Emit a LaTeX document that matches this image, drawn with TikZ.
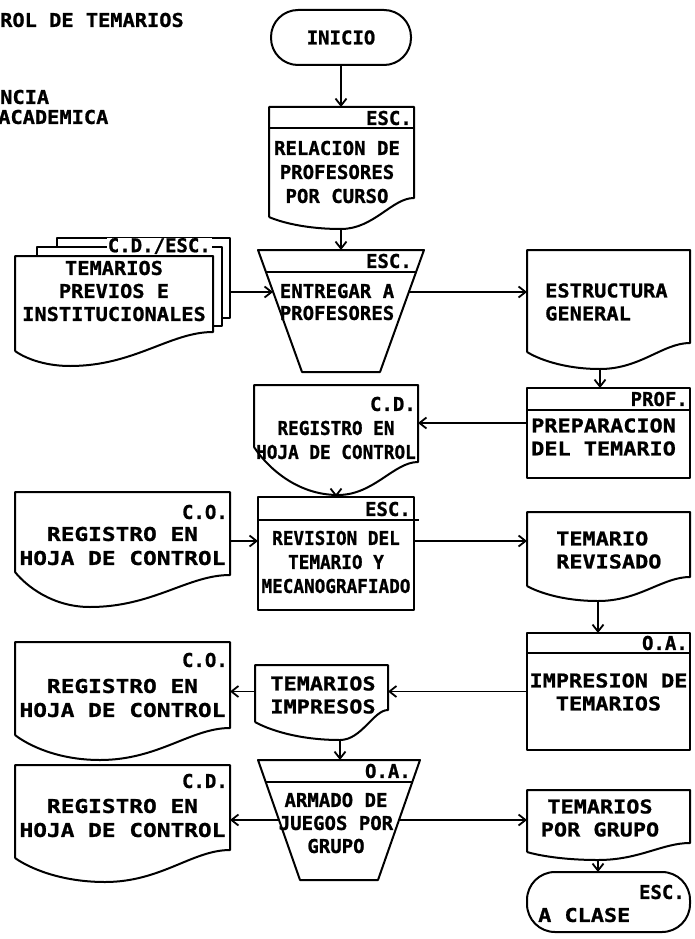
\documentclass[tikz,border=0pt]{standalone}
\usepackage{fontspec}
\setmainfont{DejaVu Sans Mono}
\newfontfamily\fW{DejaVu Sans Mono}[FakeBold=1]
\newfontfamily\fN{DejaVu Sans Mono}[FakeStretch=0.93,FakeBold=1]
\newfontfamily\fT{DejaVu Sans Mono}[FakeStretch=1.07,FakeBold=1]
\newfontfamily\fR{DejaVu Sans Mono}[FakeStretch=1.15,FakeBold=1]
\newfontfamily\fLft{DejaVu Sans Mono}[FakeStretch=1.2,FakeBold=1]
\usetikzlibrary{arrows.meta}
\newcommand\DocShape[7]{%
 \draw[shp] (#1,#7) -- (#1,#2) -- (#3,#2) -- (#3,#4)
  .. controls ({#3-0.3*(#3-#5)},#4) and ({#5+0.45*(#3-#5)},#6) .. (#5,#6)
  .. controls ({#5-0.5*(#5-#1)},#6) and ({#1+0.15*(#5-#1)},{#7+0.4*(#6-#7)}) .. (#1,#7);}
\begin{document}
\begin{tikzpicture}[x={(1pt,0)}, y={(0,-1pt)},
  shp/.style={line width=2pt, line join=round},
  arr/.style={line width=1.8pt, -{Straight Barb[length=7pt,width=11pt]}},
  lbl/.style={font=\fW\bfseries\fontsize{19}{24}\selectfont, inner sep=0pt},
  lblN/.style={font=\fN\bfseries\fontsize{19}{24}\selectfont, inner sep=0pt},
  lblT/.style={font=\fT\bfseries\fontsize{19}{24}\selectfont, inner sep=0pt},
  lblR/.style={font=\fR\bfseries\fontsize{19}{23}\selectfont, inner sep=0pt},
  lblL/.style={font=\fLft\bfseries\fontsize{19}{24}\selectfont, inner sep=0pt},
  hdr/.style={lbl, anchor=east},
  spot/.style={shape=rectangle, inner sep=0pt, outer sep=0pt},
  box/.style={shp, draw, shape=rectangle, inner sep=0pt, outer sep=0pt}]
\useasboundingbox (0,0) rectangle (694,939);

% titles
\node[lblT, anchor=west] (t1) at (0,20) {ROL DE TEMARIOS};
\node[lblT, anchor=west] (t2) at (0,97) {NCIA};
\node[lblT, anchor=west] (t3) at (-2,117) {ACADEMICA};

% INICIO
\node[box, lbl, rounded corners=27pt, minimum width=140pt, minimum height=55pt] (ini) at (341,37.5) {INICIO};

% RELACION
\DocShape{269}{107}{414}{198}{341}{229}{217}
\draw[shp] (269,128) -- (414,128);
\node[hdr] (relH) at (412,118) {ESC.};
\node[lbl, align=center] (relT) at (337,172) {RELACION DE\\PROFESORES\\POR CURSO};
\node[spot, minimum width=145pt, minimum height=122pt] (rel) at (341,168) {};

% ENTREGAR
\draw[shp] (258,250) -- (424,250) -- (380,372) -- (302,372) -- cycle;
\draw[shp] (265.9,272) -- (416.1,272);
\node[hdr] (entH) at (412,261) {ESC.};
\node[lbl, align=center, font=\fW\bfseries\fontsize{19}{22}\selectfont] (entT) at (337,302) {ENTREGAR A\\PROFESORES};
\node[spot, minimum width=136pt, minimum height=122pt] (ent) at (341,311) {};

% stack
\draw[shp] (57,247) -- (57,238) -- (230,238) -- (230,318) -- (222,318);
\draw[shp] (37,256) -- (37,247) -- (222,247) -- (222,326) -- (213,326);
\DocShape{15}{256}{213}{332}{70}{366}{351}
\node[lbl, fill=white, anchor=east, inner xsep=1pt] (stkH) at (212,246) {C.D./ESC.};
\node[lbl, align=center, font=\fT\bfseries\fontsize{19}{23}\selectfont] (stkT) at (114,291) {TEMARIOS\\PREVIOS E\\INSTITUCIONALES};
\node[spot, minimum width=215pt, minimum height=110pt] (stk) at (122.5,292) {};

% ESTRUCTURA
\DocShape{527}{250}{690}{343}{600}{369}{352}
\node[lblT, align=left, anchor=west, font=\fT\bfseries\fontsize{19}{23}\selectfont] (estT) at (545,302) {ESTRUCTURA\\GENERAL};
\node[spot, minimum width=163pt, minimum height=119pt] (est) at (608.5,309.5) {};

% PREPARACION
\node[box, minimum width=163pt, minimum height=90pt] (prep) at (608.5,433) {};
\draw[shp] (527,410) -- (690,410);
\node[hdr] (prepH) at (688,399) {PROF.};
\node[lblR, align=left, anchor=west] (prepT) at (531,437) {PREPARACION\\DEL TEMARIO};

% C.D. middle
\DocShape{254}{385}{418}{462}{338}{495}{447}
\node[hdr] (cd1H) at (416,404) {C.D.};
\node[lblN, align=center] (cd1T) at (336,440) {REGISTRO EN\\HOJA DE CONTROL};
\node[spot, minimum width=164pt, minimum height=110pt] (cd1) at (336,440) {};

% REVISION
\node[box, minimum width=156pt, minimum height=113pt] (rev) at (336,553.5) {};
\draw[shp] (258,520) -- (419,520);
\node[hdr] (revH) at (411,509) {ESC.};
\node[lblN, align=center] (revT) at (336,562) {REVISION DEL\\TEMARIO Y\\MECANOGRAFIADO};

% C.O. row 3
\DocShape{15}{492}{230}{575}{90}{607}{572}
\node[hdr] (co1H) at (228,512) {C.O.};
\node[lblL, align=center] (co1T) at (122.5,546) {REGISTRO EN\\HOJA DE CONTROL};
\node[spot, minimum width=215pt, minimum height=98pt] (co1) at (122.5,541) {};

% TEMARIO REVISADO
\DocShape{527}{512}{690}{577}{598}{601}{586}
\node[lblR, align=left, anchor=west] (trevT) at (556,550) {TEMARIO\\REVISADO};
\node[spot, minimum width=163pt, minimum height=89pt] (trev) at (608.5,556.5) {};

% IMPRESION
\node[box, minimum width=163pt, minimum height=117pt] (impr) at (608.5,691.5) {};
\draw[shp] (527,653) -- (690,653);
\node[hdr] (imprH) at (688,643) {O.A.};
\node[lblR, align=center] (imprT) at (608.5,692) {IMPRESION DE\\TEMARIOS};

% TEMARIOS IMPRESOS
\DocShape{255}{665}{388}{710}{340}{740}{722}
\node[lblR, align=center] (imp2T) at (323,695) {TEMARIOS\\IMPRESOS};
\node[spot, minimum width=133pt, minimum height=75pt] (imp2) at (321.5,702.5) {};

% C.O. row 4
\DocShape{15}{642}{230}{728}{100}{760}{735}
\node[hdr] (co2H) at (228,660) {C.O.};
\node[lblL, align=center] (co2T) at (122.5,698) {REGISTRO EN\\HOJA DE CONTROL};
\node[spot, minimum width=215pt, minimum height=118pt] (co2) at (122.5,701) {};

% ARMADO
\draw[shp] (258,760) -- (420,760) -- (378,880) -- (300,880) -- cycle;
\draw[shp] (265.7,782) -- (412.3,782);
\node[hdr] (armH) at (411,771) {O.A.};
\node[lbl, align=center, font=\fW\bfseries\fontsize{19}{23}\selectfont] (armT) at (336,823) {ARMADO DE\\JUEGOS POR\\GRUPO};
\node[spot, minimum width=122pt, minimum height=120pt] (arm) at (339,820) {};

% C.D. row 5
\DocShape{15}{765}{230}{850}{105}{882}{858}
\node[hdr] (cd2H) at (228,781) {C.D.};
\node[lblL, align=center] (cd2T) at (122.5,818) {REGISTRO EN\\HOJA DE CONTROL};
\node[spot, minimum width=215pt, minimum height=110pt] (cd2) at (122.5,820) {};

% TEMARIOS POR GRUPO
\DocShape{527}{790}{690}{843}{598}{860}{852}
\node[lblR, align=center] (tpgT) at (600,818) {TEMARIOS\\POR GRUPO};
\node[spot, minimum width=163pt, minimum height=70pt] (tpg) at (608.5,825) {};

% A CLASE
\node[box, rounded corners=28pt, minimum width=163pt, minimum height=60pt] (acl) at (608.5,902) {};
\node[hdr] (aclH) at (685,892) {ESC.};
\node[lblR, anchor=west] (aclT) at (538,915) {A CLASE};

% connectors
\draw[arr] (ini.south) -- (rel.north);
\draw[arr] (rel.south) -- (ent.north);
\draw[arr] (stk.east) -- (stk.east -| ent.west);
\draw[arr] (ent.east |- stk.east) -- (est.west |- stk.east);
\draw[arr] ([xshift=-8.5pt]est.south) -- ([xshift=-8.5pt]est.south |- prep.north);
\draw[arr] ([yshift=10pt]prep.west) -- ([yshift=10pt]prep.west -| cd1.east);
\draw[arr] (cd1.south) -- (cd1.south |- rev.north);
\draw[arr] (co1.east) -- (co1.east -| rev.west);
\draw[arr] (rev.east |- co1.east) -- (trev.west |- co1.east);
\draw[arr] ([xshift=-10.5pt]trev.south) -- ([xshift=-10.5pt]trev.south |- impr.north);
\draw[arr] (impr.west) -- (impr.west -| imp2.east);
\draw[arr] (imp2.west |- impr.west) -- (co2.east |- impr.west);
\draw[arr] ([xshift=18.5pt]imp2.south) -- ([xshift=18.5pt]imp2.south |- arm.north);
\draw[arr] (arm.west) -- (arm.west -| cd2.east);
\draw[arr] (arm.east) -- (arm.east -| tpg.west);
\draw[arr] ([xshift=-10.5pt]tpg.south) -- ([xshift=-10.5pt]tpg.south |- acl.north);
\end{tikzpicture}
\end{document}
